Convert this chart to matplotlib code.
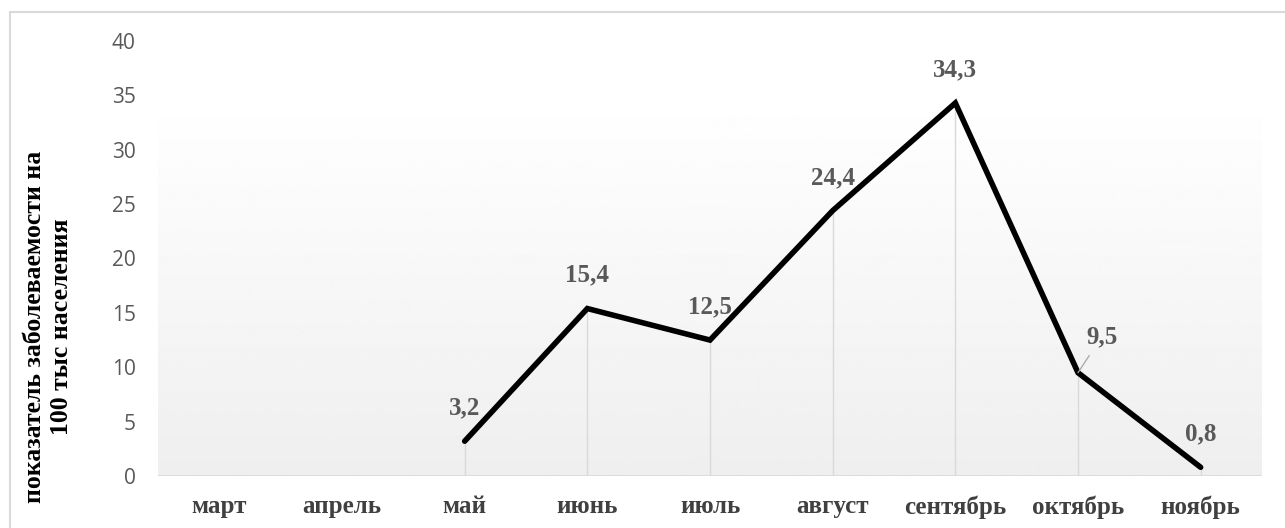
import numpy as np
import matplotlib
matplotlib.use("Agg")
import matplotlib.pyplot as plt
from matplotlib.patches import Rectangle

months = ['март', 'апрель', 'май', 'июнь', 'июль', 'август', 'сентябрь', 'октябрь', 'ноябрь']
rate = [np.nan, np.nan, 3.2, 15.4, 12.5, 24.4, 34.3, 9.5, 0.8]
y_ticks = [0, 5, 10, 15, 20, 25, 30, 35, 40]
y_title = 'показатель заболеваемости на\n100 тыс населения'

serif = ['Liberation Serif', 'DejaVu Serif']
sans = ['Open Sans', 'DejaVu Sans']

fig = plt.figure(figsize=(12.85, 5.28), dpi=100)
ax = fig.add_axes([158 / 1285, 52 / 528, 1104 / 1285, 435 / 528])

x = np.arange(len(months))

# gradient plot area (white at top -> light gray at bottom)
grad = np.linspace(1.0, 0.935, 256).reshape(-1, 1)
ax.imshow(grad, cmap='gray', vmin=0, vmax=1, aspect='auto',
          extent=[-0.5, len(months) - 0.5, 0, 35.2], origin='upper', zorder=0)

# drop lines
for xi, v in zip(x, rate):
    if not np.isnan(v):
        ax.plot([xi, xi], [0, v], color='#d9d9d9', lw=1, zorder=1)

ax.axhline(0, color='#d9d9d9', lw=1.2, zorder=1)
ax.plot(x, rate, color='black', lw=4, solid_capstyle='round', solid_joinstyle='miter', zorder=3)

# data labels
for xi, v in zip(x, rate):
    if np.isnan(v):
        continue
    lbl = str(v).replace('.', ',')
    if v == 9.5:
        ax.annotate(lbl, xy=(xi, v), xytext=(17, 26), textcoords='offset points',
                    ha='center', va='center', fontsize=18, fontweight='bold',
                    color='#595959', family=serif,
                    arrowprops=dict(arrowstyle='-', color='#a6a6a6', lw=0.9,
                                    shrinkA=4, shrinkB=0))
    else:
        ax.annotate(lbl, xy=(xi, v), xytext=(0, 24), textcoords='offset points',
                    ha='center', va='center', fontsize=18, fontweight='bold',
                    color='#595959', family=serif)

ax.set_xlim(-0.5, len(months) - 0.5)
ax.set_ylim(0, 40)
ax.set_yticks(y_ticks)
ax.set_yticklabels([str(t) for t in y_ticks], family=sans, fontsize=15, color='#595959')
ax.set_xticks(x)
ax.set_xticklabels(months, family=serif, fontsize=18, fontweight='bold', color='#404040')
ax.tick_params(axis='both', length=0)
ax.tick_params(axis='y', pad=16)
ax.tick_params(axis='x', pad=14)
for s in ax.spines.values():
    s.set_visible(False)

fig.text(48 / 1285, (528 - 327) / 528, y_title, rotation=90, ha='center', va='center',
         family=serif, fontsize=18.5, fontweight='bold', color='black', linespacing=1.2)

# outer chart border
fig.patches.append(Rectangle((10 / 1285, -0.1), 1.2, (528 - 12) / 528 + 0.1,
                             transform=fig.transFigure, fill=False,
                             edgecolor='#d9d9d9', lw=1.5, zorder=0))

fig.savefig('out.png', dpi=100)
